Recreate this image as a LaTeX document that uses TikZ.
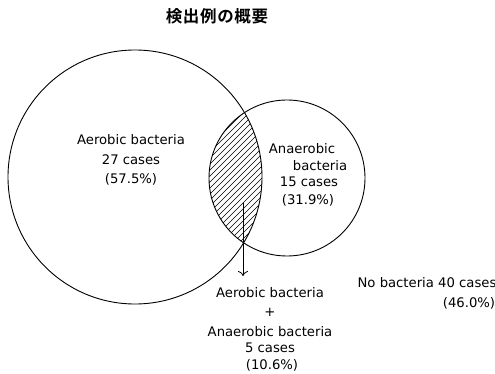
\documentclass[tikz,border=0pt]{standalone}
\usepackage{fontspec}
\setmainfont{DejaVu Sans}
\newfontfamily\jpfont{Noto Sans CJK JP Bold}[LetterSpace=4]
\usetikzlibrary{arrows.meta}
\begin{document}
\begin{tikzpicture}[x=1pt,y=-1pt,
  lbl/.style={inner sep=0pt,font=\fontsize{13.2}{15}\selectfont},
  venn/.style={draw,circle,line width=0.9pt,inner sep=0pt},
  hatch/.style={line width=0.7pt}]
\useasboundingbox (0,0) rectangle (495,374);
\node[font=\jpfont\fontsize{16.5}{18}\selectfont,inner sep=0pt] (title) at (217,16) {検出例の概要};
% hatching of the intersection
\begin{scope}
  \clip (135,177) circle (127);
  \clip (287,178) circle (78);
  \foreach \c in {0,6,...,240} {
    \draw[hatch] (\c,260) -- (\c+200,60);
  }
\end{scope}
\node[venn,minimum size=254pt] (aer) at (135,177) {};
\node[venn,minimum size=156pt] (ana) at (287,178) {};
\coordinate (as) at (243,203);
\coordinate (ae) at (243,276);
\draw[line width=0.8pt,-{To[length=5pt,width=10pt]}] (as) -- (ae);
% labels
\node[lbl] (a1) at (131,140) {Aerobic bacteria};
\node[lbl] (a2) at (131,160) {27 cases};
\node[lbl] (a3) at (131,179) {(57.5\%)};
\node[lbl] (b1) at (302,149) {Anaerobic};
\node[lbl] (b2) at (320,166) {bacteria};
\node[lbl] (b3) at (309,182) {15 cases};
\node[lbl] (b4) at (308,200) {(31.9\%)};
\node[lbl] (n1) at (427,283) {No bacteria 40 cases};
\node[lbl] (n2) at (469,303) {(46.0\%)};
\node[lbl] (c1) at (270,293) {Aerobic bacteria};
\node[lbl] (c2) at (270,312) {+};
\node[lbl] (c3) at (270,332) {Anaerobic bacteria};
\node[lbl] (c4) at (270,348) {5 cases};
\node[lbl] (c5) at (272,365) {(10.6\%)};
\end{tikzpicture}
\end{document}
